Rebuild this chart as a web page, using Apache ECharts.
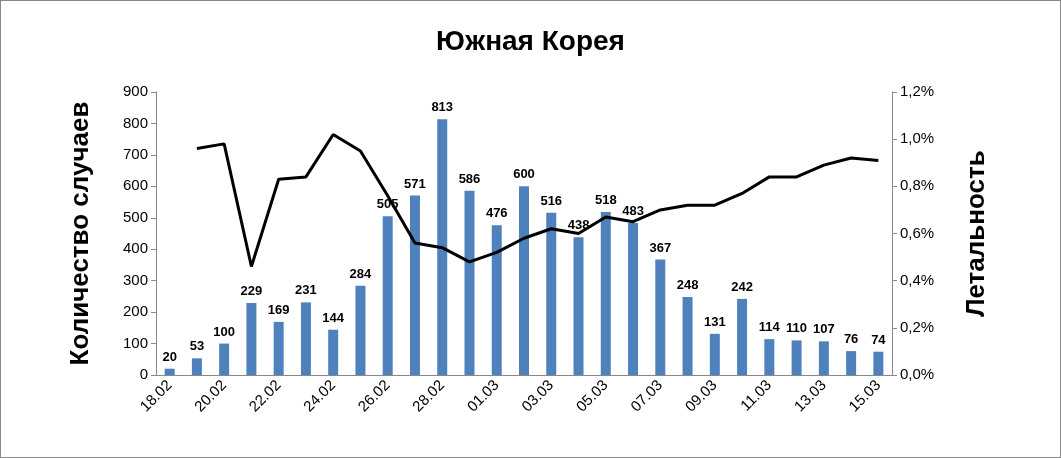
<!DOCTYPE html>
<html><head><meta charset="utf-8">
<script src="https://cdn.jsdelivr.net/npm/echarts@6/dist/echarts.min.js"></script>
<style>html,body{margin:0;padding:0;background:#fff}#c{width:1061px;height:458px;box-sizing:border-box;border:1px solid #888}</style>
</head><body><div id="c"></div>
<script>
const categories=['18.02','19.02','20.02','21.02','22.02','23.02','24.02','25.02','26.02','27.02','28.02','29.02','01.03','02.03','03.03','04.03','05.03','06.03','07.03','08.03','09.03','10.03','11.03','12.03','13.03','14.03','15.03'];
const cases=[20,53,100,229,169,231,144,284,505,571,813,586,476,600,516,438,518,483,367,248,131,242,114,110,107,76,74];
const lethality=[null,0.96,0.98,0.46,0.83,0.84,1.02,0.95,0.76,0.56,0.54,0.48,0.52,0.58,0.62,0.60,0.67,0.65,0.70,0.72,0.72,0.77,0.84,0.84,0.89,0.92,0.91];
const F='Liberation Sans';
const chart=echarts.init(document.getElementById('c'));
chart.setOption({
animation:false,
title:{text:'Южная Корея',left:'center',top:22,textStyle:{fontFamily:F,fontSize:28,fontWeight:'bold',color:'#000'}},
grid:{left:155,right:168,top:91,bottom:82},
xAxis:{type:'category',data:categories,axisLine:{lineStyle:{color:'#888'}},axisTick:{interval:1,lineStyle:{color:'#888'}},
 axisLabel:{interval:1,rotate:45,fontFamily:F,fontSize:15,color:'#000'}},
yAxis:[{type:'value',min:0,max:900,interval:100,name:'Количество случаев',nameLocation:'middle',nameGap:62,
 nameTextStyle:{fontFamily:F,fontSize:26,fontWeight:'bold',color:'#000'},axisLine:{show:true,lineStyle:{color:'#888'}},axisTick:{show:true},
 splitLine:{show:false},axisLabel:{fontFamily:F,fontSize:15,color:'#000'}},
 {type:'value',min:0,max:1.2,interval:0.2,name:'Летальность',nameLocation:'middle',nameGap:72,nameRotate:90,
 nameTextStyle:{fontFamily:F,fontSize:26,fontWeight:'bold',color:'#000'},axisLine:{show:true,lineStyle:{color:'#888'}},axisTick:{show:true},
 splitLine:{show:false},axisLabel:{fontFamily:F,fontSize:15,color:'#000',formatter:v=>v.toFixed(1).replace('.',',')+'%'}}],
series:[{type:'bar',data:cases,barWidth:10,itemStyle:{color:'#4f81bd'},
 label:{show:true,position:'top',fontFamily:F,fontSize:13,fontWeight:'bold',color:'#000'}},
 {type:'line',yAxisIndex:1,data:lethality,symbol:'none',lineStyle:{color:'#000',width:3}}]
});
</script></body></html>
